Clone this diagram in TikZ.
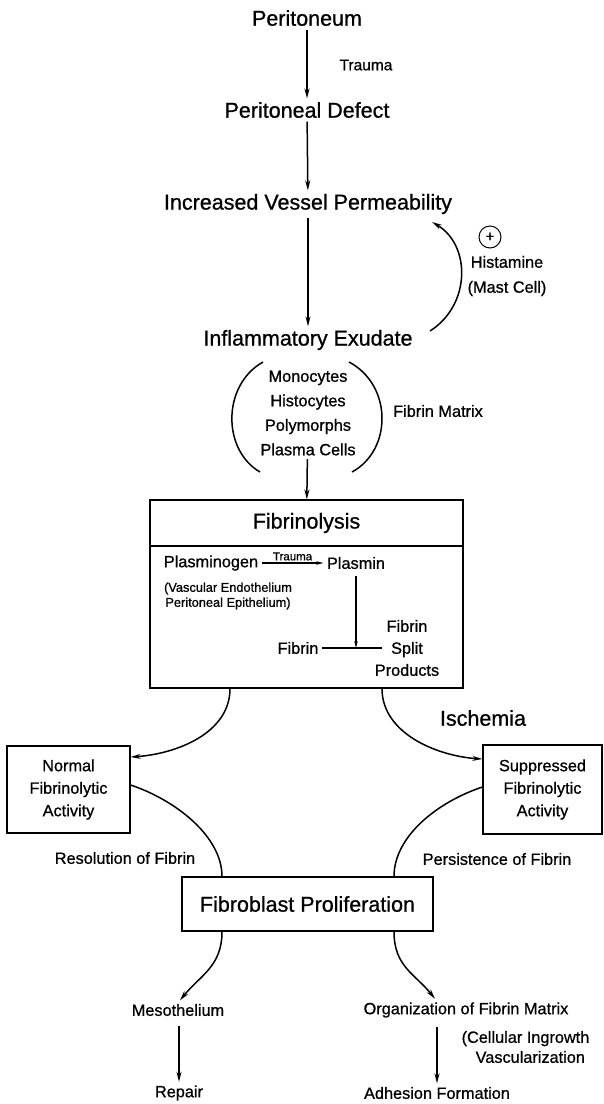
\documentclass[tikz,border=0pt]{standalone}
\usepackage{fontspec}
\setmainfont{Liberation Sans}[FakeBold=0.8]
\usetikzlibrary{arrows.meta}
\usetikzlibrary{calc}

\begin{document}
\begin{tikzpicture}[x=1pt,y=1pt,semithick]
  \tikzstyle{big}=[font=\fontsize{21.5}{24}\selectfont]
  \tikzstyle{mid}=[font=\fontsize{16.3}{22.5}\selectfont, align=center]
  \tikzstyle{sml}=[font=\fontsize{12.8}{15}\selectfont, align=center]
  \tikzstyle{boxed}=[draw, rectangle, line width=1.2pt]
  \tikzstyle{flow}=[-{Stealth[length=10pt,width=5pt]}, line width=1.5pt]
  \tikzstyle{flowsm}=[-{Stealth[length=7pt,width=3.5pt]}, line width=1.2pt]
  \useasboundingbox (0,0) rectangle (603,-1104);

  % main column
  \node[big] (peri)   at (307,-18)  {Peritoneum};
  \node[mid, font=\fontsize{15.5}{18}\selectfont] (trauma) at (366,-65) {Trauma};
  \node[big] (defect) at (307,-110) {Peritoneal Defect};
  \node[big] (perm)   at (308,-204) {Increased Vessel Permeability};
  \node[big] (exud)   at (308,-340) {Inflammatory Exudate};
  \node[draw, circle, minimum size=22, inner sep=0pt, line width=1pt,
        font=\fontsize{15}{15}\selectfont] (plus) at (490,-237) {+};
  \node[mid, font=\fontsize{16.3}{25}\selectfont] (hist) at (507,-276) {Histamine\\(Mast Cell)};
  \node[mid, font=\fontsize{16.3}{24.5}\selectfont] (cells) at (308,-413) {Monocytes\\Histocytes\\Polymorphs\\Plasma Cells};
  \node[mid] (matrix) at (438,-411) {Fibrin Matrix};

  \draw[flow] (peri) -- (defect);
  \draw[flow] (defect) -- (perm);
  \draw[flow] (perm) -- (exud);
  \draw[flow] (430,-331) .. controls (471,-305) and (471,-245) .. (432,-222);
  % brackets round the cells
  \draw[line width=1.5pt] (263,-362) .. controls (222,-385) and (222,-450) .. (260,-472);
  \draw[line width=1.5pt] (349,-362) .. controls (392.5,-385) and (392.5,-450) .. (352,-472);

  % fibrinolysis box
  \node[boxed, big, minimum width=313, minimum height=46] (fibtitle) at (306.5,-523) {Fibrinolysis};
  \node[boxed, minimum width=313, minimum height=142] (fibbody) at (306.5,-617) {};
  \draw[flow] (cells) -- (fibtitle);

  \node[mid] (plg) at (211,-563) {Plasminogen};
  \node[mid] (plm) at (356,-563) {Plasmin};
  \node[sml] (vasc) at (228,-596) {(Vascular Endothelium\\Peritoneal Epithelium)};
  \node[mid] (fib) at (298,-648) {Fibrin};
  \node[mid, font=\fontsize{16.3}{22}\selectfont] (fsp) at (407,-648) {Fibrin\\Split\\Products};
  \draw[flowsm] (plg.east) -- node[above, font=\fontsize{11.5}{12}\selectfont, inner sep=2pt] (trlbl) {Trauma} (plg.east -| plm.west);
  \draw[line width=1.2pt] (fib.east) -- ([xshift=11]fsp.west);
  \draw[flowsm, shorten <=3pt] (plm.south) -- (plm |- fib);

  % two branches
  \node[big] (isch) at (483,-718) {Ischemia};
  \node[boxed, mid, minimum width=123, minimum height=87] (normal) at (68.5,-789.5) {Normal\\Fibrinolytic\\Activity};
  \node[boxed, mid, minimum width=119, minimum height=89] (supp) at (542.5,-789.5) {Suppressed\\Fibrinolytic\\Activity};
  \draw[flow] ([xshift=-76.5]fibbody.south) .. controls +(0,-45) and +(45,3) .. ([yshift=32.5]normal.east);
  \draw[flow] ([xshift=75.5]fibbody.south) .. controls +(0,-45) and +(-45,3) .. ([yshift=30.5]supp.west);

  \node[mid] (resol) at (125,-858) {Resolution of Fibrin};
  \node[mid] (pers) at (497,-859) {Persistence of Fibrin};
  \node[boxed, big, minimum width=251, minimum height=54] (fibro) at (307.5,-904) {Fibroblast Proliferation};
  \draw[line width=1.5pt] ([yshift=4.5]normal.east) .. controls +(45,-15) and +(0,40) .. ([xshift=-85.5]fibro.north);
  \draw[line width=1.5pt] ([yshift=2.5]supp.west) .. controls +(-45,-15) and +(0,40) .. ([xshift=86.5]fibro.north);

  % outcomes
  \node[mid] (meso) at (178,-1010) {Mesothelium};
  \node[mid] (orgn) at (466,-1010) {Organization of Fibrin Matrix};
  \node[mid, align=left, anchor=west, font=\fontsize{16.3}{20}\selectfont] (ingr) at (458,-1047) {(Cellular Ingrowth\\\hspace*{14pt}Vascularization};
  \node[mid] (repair) at (179,-1093) {Repair};
  \node[mid] (adh) at (437,-1093) {Adhesion Formation};
  \draw[flow] ([xshift=-85.5]fibro.south) .. controls +(0,-35) and +(20,25) .. ([xshift=2]meso.north);
  \draw[flow] ([xshift=86.5]fibro.south) .. controls +(0,-35) and +(-20,25) .. ([xshift=-31]orgn.north);
  \draw[flow, shorten <=6pt] (meso.south -| repair) -- (repair);
  \draw[flow, shorten <=6pt] (orgn.south -| adh) -- (adh);
\end{tikzpicture}
\end{document}
